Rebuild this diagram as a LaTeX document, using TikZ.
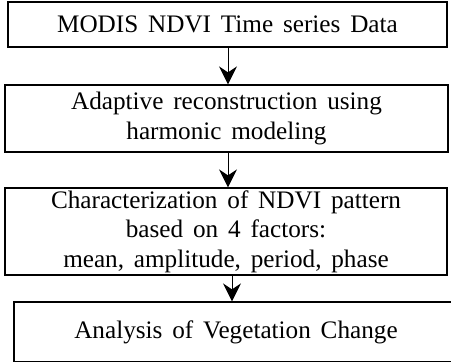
\documentclass[tikz,border=0pt]{standalone}
\usepackage{fontspec}
\setmainfont{Liberation Serif}
\usetikzlibrary{arrows.meta}
\newcommand\stagefont{\fontsize{12.6}{14.7}\selectfont\spaceskip=.39em plus .1em\relax}

\begin{document}
\begin{tikzpicture}[x=0.5pt,y=-0.5pt,
  stage/.style={draw,line width=.6pt,inner sep=0pt,align=center,font=\stagefont},
  flow/.style={line width=.5pt,-{Stealth[length=9pt,width=9pt,inset=3pt]}}]
  \useasboundingbox (0,0) rectangle (451,361);
  \node[stage,minimum width=219.5pt,minimum height=22.5pt] (data) at (227.5,24.5)
    {MODIS NDVI Time series Data};
  \node[stage,minimum width=221.5pt,minimum height=33.5pt] (recon) at (226.5,118.5)
    {Adaptive reconstruction using\\ harmonic modeling};
  \node[stage,minimum width=221pt,minimum height=43.5pt] (charac) at (226,231.5)
    {Characterization of NDVI pattern\\ based on 4 factors:\\ mean, amplitude, period, phase};
  \node[stage,minimum width=222pt,minimum height=30pt] (change) at (236,332)
    {Analysis of Vegetation Change};
  \draw[flow] (data.south) ++(0.5,0) coordinate (a1) -- (a1 |- recon.north);
  \draw[flow] (recon.south) ++(1.5,0) coordinate (a2) -- (a2 |- charac.north);
  \draw[flow] (charac.south) ++(6,0) coordinate (a3) -- (a3 |- change.north);
\end{tikzpicture}
\end{document}
